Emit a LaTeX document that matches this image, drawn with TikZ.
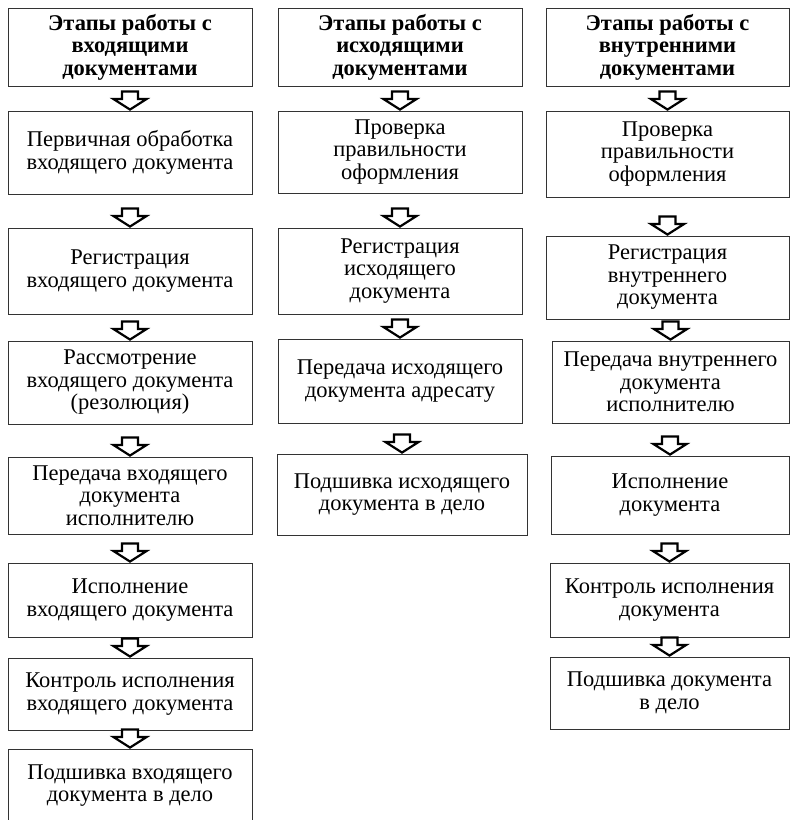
\documentclass[tikz,border=0pt]{standalone}
\usepackage{fontspec}
\setmainfont{Liberation Serif}
\usetikzlibrary{positioning,calc}

\tikzset{
  stagebox/.style={draw=black!80, line width=0.9pt, fill=white, align=center,
    inner sep=2pt, font=\fontsize{22.5}{22.5}\selectfont},
  headbox/.style={stagebox, font=\fontsize{22.5}{22.5}\selectfont\bfseries},
  hollowarrow/.style={draw=black, line width=2.2pt, fill=white, line join=miter},
}

% hollow block arrow, its tip on the top of the next box
\newcommand{\flowarrow}[2]{%
  \draw[hollowarrow] ($(#2.north)+(-8,-19)$) -- ++(16,0) -- ++(0,7.5)
    -- ++(8.5,0) -- ($(#2.north)+(0,-1)$) -- ++(-16.5,-10.5) -- ++(8.5,0) -- cycle;}

\begin{document}
\begin{tikzpicture}[x=1pt,y=-1pt]
  \fill[white] (0,0) rectangle (790,820);
  \useasboundingbox (0,0) rectangle (790,820);
  % INCOMING
  \node[headbox, minimum width=244, minimum height=78] (in0) at (130,47) {Этапы работы с\\входящими\\документами};
  \node[stagebox, minimum width=244, minimum height=83] (in1) at (130,152.5) {Первичная обработка\\входящего документа};
  \node[stagebox, minimum width=244, minimum height=86] (in2) at (130,271) {Регистрация\\входящего документа};
  \node[stagebox, minimum width=244, minimum height=83] (in3) at (130,382.5) {Рассмотрение\\входящего документа\\(резолюция)};
  \node[stagebox, minimum width=244, minimum height=77] (in4) at (130,495.5) {Передача входящего\\документа\\исполнителю};
  \node[stagebox, minimum width=244, minimum height=74] (in5) at (130,600) {Исполнение\\входящего документа};
  \node[stagebox, minimum width=244, minimum height=72] (in6) at (130,694) {Контроль исполнения\\входящего документа};
  \node[stagebox, minimum width=244, minimum height=73] (in7) at (130,785.5) {Подшивка входящего\\документа в дело};
  % OUTGOING
  \node[headbox, minimum width=244, minimum height=78] (out0) at (400,47) {Этапы работы с\\исходящими\\документами};
  \node[stagebox, minimum width=244, minimum height=82] (out1) at (400,152) {Проверка\\правильности\\оформления};
  \node[stagebox, minimum width=244, minimum height=86] (out2) at (400,271) {Регистрация\\исходящего\\документа};
  \node[stagebox, minimum width=244, minimum height=84] (out3) at (400,381) {Передача исходящего\\документа адресату};
  \node[stagebox, minimum width=250, minimum height=81] (out4) at (402,494.5) {Подшивка исходящего\\документа в дело};
  % INTERNAL
  \node[headbox, minimum width=243, minimum height=78] (int0) at (667.5,47) {Этапы работы с\\внутренними\\документами};
  \node[stagebox, minimum width=243, minimum height=86] (int1) at (667.5,154) {Проверка\\правильности\\оформления};
  \node[stagebox, minimum width=243, minimum height=83] (int2) at (667.5,277.5) {Регистрация\\внутреннего\\документа};
  \node[stagebox, minimum width=237, minimum height=82] (int3) at (670.5,382) {Передача внутреннего\\документа\\исполнителю};
  \node[stagebox, minimum width=238, minimum height=78] (int4) at (670,495) {Исполнение\\документа};
  \node[stagebox, minimum width=239, minimum height=74] (int5) at (669.5,600) {Контроль исполнения\\документа};
  \node[stagebox, minimum width=239, minimum height=72] (int6) at (669.5,693) {Подшивка документа\\в дело};
  % arrows
  \foreach \a/\b in {in0/in1,in1/in2,in2/in3,in3/in4,in4/in5,in5/in6,in6/in7,
      out0/out1,out1/out2,out2/out3,out3/out4,
      int0/int1,int1/int2,int2/int3,int3/int4,int4/int5,int5/int6}
    {\flowarrow{\a}{\b}}
\end{tikzpicture}
\end{document}
